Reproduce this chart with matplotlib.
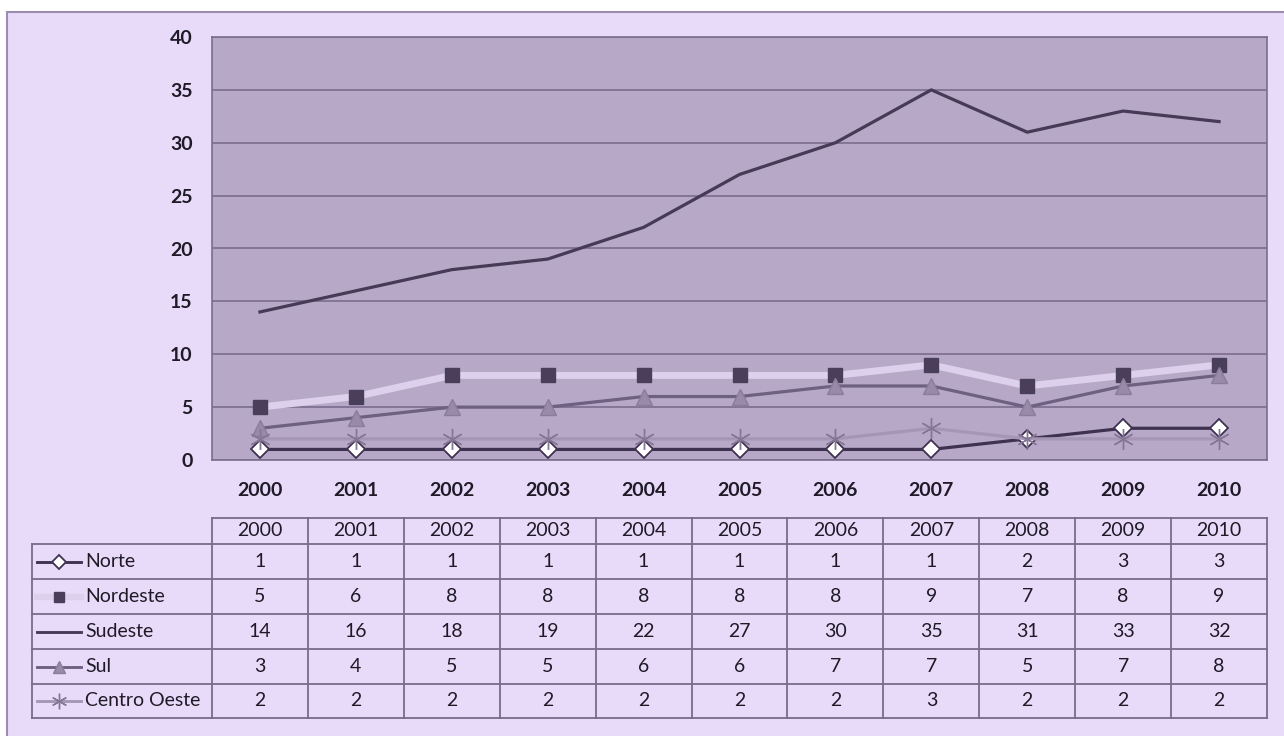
import matplotlib
matplotlib.use("Agg")
import matplotlib.pyplot as plt
from matplotlib.patches import Rectangle
from matplotlib.lines import Line2D

years = ["2000", "2001", "2002", "2003", "2004", "2005", "2006", "2007", "2008", "2009", "2010"]
regions = ["Norte", "Nordeste", "Sudeste", "Sul", "Centro Oeste"]
norte = [1, 1, 1, 1, 1, 1, 1, 1, 2, 3, 3]
nordeste = [5, 6, 8, 8, 8, 8, 8, 9, 7, 8, 9]
sudeste = [14, 16, 18, 19, 22, 27, 30, 35, 31, 33, 32]
sul = [3, 4, 5, 5, 6, 6, 7, 7, 5, 7, 8]
centro_oeste = [2, 2, 2, 2, 2, 2, 2, 3, 2, 2, 2]
series = [norte, nordeste, sudeste, sul, centro_oeste]

# style per series: line colour, line width, marker, marker size, face, edge
styles = [
    dict(color="#3E3250", lw=2.3, marker="D", ms=9, mfc="white", mec="#3E3250", mew=1.3),
    dict(color="#DCD0EC", lw=5.0, marker="s", ms=10, mfc="#4A3F5A", mec="#4A3F5A", mew=1),
    dict(color="#463A56", lw=2.3, marker="None", ms=0, mfc="none", mec="none", mew=0),
    dict(color="#6E6080", lw=2.3, marker="^", ms=11, mfc="#9A8AAA", mec="#8C7C9C", mew=1),
    dict(color="#A696B6", lw=2.3, marker=(6, 2, 0), ms=15, mfc="#857696", mec="#857696", mew=1),
]

W, H = 1284, 736
plt.rcParams["font.family"] = ["Lato", "DejaVu Sans"]
fig = plt.figure(figsize=(W / 100, H / 100), dpi=100, facecolor="white")


def px_axes(l, t, r, b, **kw):
    return fig.add_axes([l / W, 1 - b / H, (r - l) / W, (b - t) / H], **kw)


# outer lavender panel
bg = fig.add_axes([0, 0, 1, 1], zorder=-10)
bg.set_xlim(0, W); bg.set_ylim(H, 0); bg.axis("off")
bg.add_patch(Rectangle((7, 12), W, H, facecolor="#E8DBFA", edgecolor="#9C8CB0", lw=1.5))

grid_c = "#7C6D8E"
txt_c = "#1E1A26"
ax = px_axes(212, 37, 1267, 460)
ax.set_facecolor("#B7A8C8")
x = list(range(len(years)))
for vals, st in zip(series, styles):
    ax.plot(x, vals, color=st["color"], lw=st["lw"], marker=st["marker"], ms=st["ms"],
            mfc=st["mfc"], mec=st["mec"], mew=st["mew"], solid_joinstyle="round")
ax.set_xlim(-0.5, len(years) - 0.5)
ax.set_ylim(0, 40)
ax.set_yticks(range(0, 41, 5))
ax.set_xticks(x, years)
ax.yaxis.grid(True, color=grid_c, lw=1.2)
ax.set_axisbelow(True)
ax.tick_params(length=0, labelsize=14, colors=txt_c)
ax.tick_params(axis="y", pad=14)
ax.tick_params(axis="x", pad=16)
for lab in ax.get_xticklabels() + ax.get_yticklabels():
    lab.set_fontweight("bold")
for s in ax.spines.values():
    s.set_color(grid_c); s.set_linewidth(1.2)

# data table below the chart
tb = px_axes(0, 0, W, H)
tb.set_xlim(0, W); tb.set_ylim(H, 0); tb.axis("off")
tab_l, lab_l, tab_r = 212, 32, 1267
row_y = [518, 544, 579, 614, 649, 684, 718]
col_w = (tab_r - tab_l) / len(years)
lc = "#7A6A8C"
fs = 14
tb.plot([tab_l, tab_r], [row_y[0]] * 2, color=lc, lw=1.3)
for y in row_y[1:]:
    tb.plot([lab_l, tab_r], [y, y], color=lc, lw=1.3)
tb.plot([lab_l, lab_l], [row_y[1], row_y[-1]], color=lc, lw=1.3)
for i in range(len(years) + 1):
    xx = tab_l + i * col_w
    tb.plot([xx, xx], [row_y[0], row_y[-1]], color=lc, lw=1.3)
for i, yr in enumerate(years):
    tb.text(tab_l + (i + 0.5) * col_w, (row_y[0] + row_y[1]) / 2, yr, ha="center", va="center",
            fontsize=fs, color=txt_c)
for r, (name, vals, st) in enumerate(zip(regions, series, styles)):
    yc = (row_y[r + 1] + row_y[r + 2]) / 2
    tb.add_line(Line2D([37, 81], [yc, yc], color=st["color"], lw=st["lw"] * 0.9))
    if st["marker"] != "None":
        tb.add_line(Line2D([59], [yc], marker=st["marker"], ms=st["ms"] * 0.75, mfc=st["mfc"],
                           mec=st["mec"], mew=st["mew"], ls="none"))
    tb.text(85, yc, name, ha="left", va="center", fontsize=fs, color=txt_c)
    for i, v in enumerate(vals):
        tb.text(tab_l + (i + 0.5) * col_w, yc, str(v), ha="center", va="center",
                fontsize=fs, color=txt_c)

fig.savefig("out.png", dpi=100, facecolor=fig.get_facecolor())
